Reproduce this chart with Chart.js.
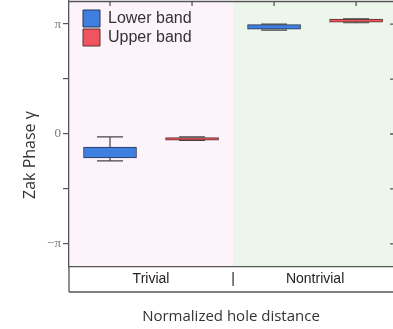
<!DOCTYPE html>
<html>
<head>
<meta charset="utf-8">
<script src="https://cdn.jsdelivr.net/npm/chart.js@4/dist/chart.umd.min.js"></script>
<style>
  html, body { margin: 0; padding: 0; background: #ffffff; }
  #wrap { width: 393px; height: 329px; }
</style>
</head>
<body>
<div id="wrap"><canvas id="zak-chart"></canvas></div>
<script>
// Zak phase per band, in units of pi (box = q1..q3, whiskers = min..max)
const categories = ['Trivial', 'Nontrivial'];
const lowerMin = [-0.245, 0.945];
const lowerQ1  = [-0.218, 0.953];
const lowerQ3  = [-0.118, 0.995];
const lowerMax = [-0.027, 1.000];
const upperMin = [-0.059, 1.012];
const upperQ1  = [-0.055, 1.018];
const upperQ3  = [-0.032, 1.045];
const upperMax = [-0.027, 1.047];
const yTicks = [-1, -0.5, 0, 0.5, 1];
const yTickLabels = ['−π', '', '0', '', 'π'];

const lowerBoxes = categories.map((c, i) => ({ x: i * 2 + 0.5, y: [lowerQ1[i], lowerQ3[i]], min: lowerMin[i], max: lowerMax[i] }));
const upperBoxes = categories.map((c, i) => ({ x: i * 2 + 1.5, y: [upperQ1[i], upperQ3[i]], min: upperMin[i], max: upperMax[i] }));

// background shading, whiskers, frame and y title
const framePlugin = {
    id: 'frame',
    beforeDraw(chart) {
        const { ctx, chartArea: a, scales: { x } } = chart;
        const mid = x.getPixelForValue(2);
        ctx.save();
        ctx.fillStyle = '#fcf4fa';
        ctx.fillRect(a.left, a.top, mid - a.left, a.bottom - a.top);
        ctx.fillStyle = '#ecf6ea';
        ctx.fillRect(mid, a.top, a.right - mid, a.bottom - a.top);
        ctx.restore();
    },
    afterLayout(chart) {
        const lg = chart.legend;
        lg.left = chart.chartArea.left + 12;
        lg.top = chart.chartArea.top + 7;
    },
    afterDatasetsDraw(chart) {
        const { ctx, scales: { x, y } } = chart;
        ctx.save();
        ctx.strokeStyle = '#444';
        ctx.lineWidth = 1.2;
        chart.data.datasets.forEach((ds) => {
            ds.data.forEach((d) => {
                const cx = x.getPixelForValue(d.x);
                const half = 13;
                const pMax = y.getPixelForValue(d.max), pMin = y.getPixelForValue(d.min);
                const pHi = y.getPixelForValue(d.y[1]), pLo = y.getPixelForValue(d.y[0]);
                ctx.beginPath();
                ctx.moveTo(cx, pMax); ctx.lineTo(cx, pHi);
                ctx.moveTo(cx, pLo); ctx.lineTo(cx, pMin);
                ctx.moveTo(cx - half, pMax); ctx.lineTo(cx + half, pMax);
                ctx.moveTo(cx - half, pMin); ctx.lineTo(cx + half, pMin);
                ctx.stroke();
            });
        });
        ctx.restore();
    },
    afterDraw(chart) {
        const { ctx, chartArea: a, scales: { x, y } } = chart;
        const bandBottom = a.bottom + 25;
        ctx.save();
        ctx.strokeStyle = '#555';
        ctx.lineWidth = 1.3;
        ctx.beginPath();
        ctx.moveTo(a.left, a.top + 0.5); ctx.lineTo(a.right, a.top + 0.5);
        ctx.moveTo(a.left, a.bottom); ctx.lineTo(a.left, bandBottom);
        ctx.moveTo(a.left, bandBottom); ctx.lineTo(a.right, bandBottom);
        // inward ticks on top and right
        [0.5, 1.5, 2.5, 3.5].forEach((v) => {
            const px = x.getPixelForValue(v);
            ctx.moveTo(px, a.top); ctx.lineTo(px, a.top + 5);
        });
        yTicks.forEach((v) => {
            const py = y.getPixelForValue(v);
            ctx.moveTo(a.right - 3, py); ctx.lineTo(a.right, py);
        });
        ctx.stroke();
        // y title
        ctx.translate(30, 155);
        ctx.rotate(-Math.PI / 2);
        ctx.fillStyle = '#333';
        ctx.font = '16px "Open Sans"';
        ctx.textAlign = 'center';
        ctx.textBaseline = 'middle';
        ctx.fillText('Zak Phase γ', 0, 0);
        ctx.restore();
    }
};

const ctx = document.getElementById('zak-chart').getContext('2d');
new Chart(ctx, {
    type: 'bar',
    data: {
        datasets: [{
            label: 'Lower band',
            data: lowerBoxes,
            backgroundColor: '#3f7fe0',
            borderColor: '#2a3550',
            borderWidth: 1,
            borderSkipped: false
        }, {
            label: 'Upper band',
            data: upperBoxes,
            backgroundColor: '#ef5560',
            borderColor: '#5a3030',
            borderWidth: 1,
            borderSkipped: false
        }]
    },
    options: {
        responsive: true,
        maintainAspectRatio: false,
        animation: false,
        grouped: false,
        barThickness: 53,
        layout: { padding: { top: 1, right: 0, left: 0, bottom: 0 } },
        plugins: {
            tooltip: { enabled: false },
            legend: {
                position: 'chartArea',
                align: 'start',
                labels: {
                    boxWidth: 17,
                    boxHeight: 17,
                    padding: 2,
                    color: '#333',
                    font: { family: 'Liberation Sans', size: 16 }
                }
            }
        },
        scales: {
            x: {
                type: 'linear',
                offset: false,
                min: 0,
                max: 3.95,
                afterFit(s) { s.height = 62; s.paddingLeft = 0; s.paddingRight = 0; },
                afterBuildTicks(s) { s.ticks = [1, 2, 3].map(v => ({ value: v })); },
                grid: { display: false, drawTicks: false },
                border: { display: true, color: '#555', width: 1.3 },
                ticks: {
                    padding: 4,
                    maxRotation: 0,
                    color: '#222',
                    font: { family: 'Liberation Sans', size: 14 },
                    callback: (v) => ({ 1: categories[0], 2: '|', 3: categories[1] })[v]
                },
                title: {
                    display: true,
                    text: 'Normalized hole distance',
                    color: '#333',
                    font: { family: 'Open Sans', size: 15 },
                    padding: { top: 0, bottom: 3 }
                }
            },
            y: {
                min: -1.21,
                max: 1.21,
                afterFit(s) { s.width = 69; s.paddingTop = 0; s.paddingBottom = 0; },
                afterBuildTicks(s) { s.ticks = yTicks.map(v => ({ value: v })); },
                grid: { drawOnChartArea: false, drawTicks: true, tickLength: 6, color: '#555', lineWidth: 1.2 },
                border: { display: true, color: '#555', width: 1.3 },
                ticks: {
                    padding: 2,
                    color: '#777',
                    font: { family: 'Liberation Serif', size: 13 },
                    callback: (v) => yTickLabels[yTicks.indexOf(v)]
                }
            }
        }
    },
    plugins: [framePlugin]
});
</script>
</body>
</html>
